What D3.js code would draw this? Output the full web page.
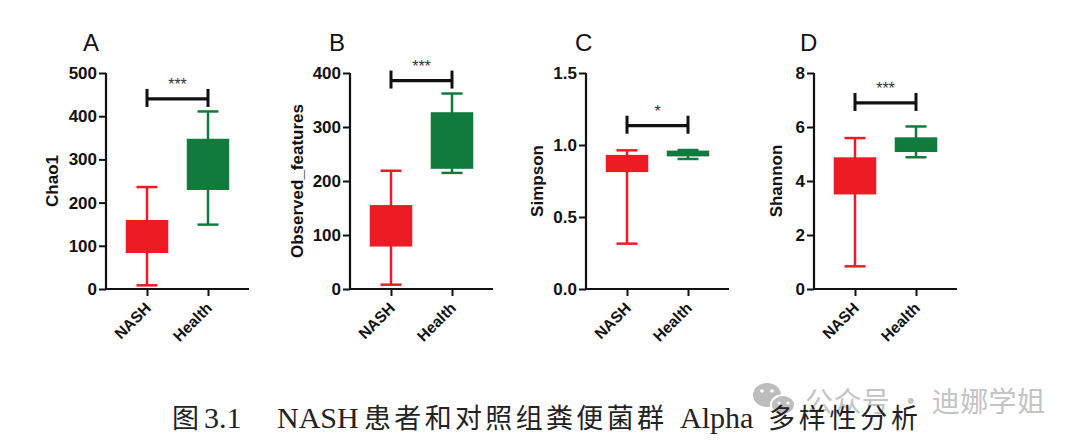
<!DOCTYPE html>
<html><head><meta charset="utf-8">
<script src="https://cdn.jsdelivr.net/npm/d3@7"></script>
<style>body{margin:0;background:#fff}svg{display:block}</style>
</head><body><svg id="c" width="1080" height="445"></svg>
<script>
// ---------- data ----------
const groups = ["NASH", "Health"];
const panelLetters = ["A", "B", "C", "D"];
const yTitles = ["Chao1", "Observed_features", "Simpson", "Shannon"];
// [whisker min, Q1, Q3, whisker max] per group
const chao1Stats = [[8.5, 85, 158, 236], [149, 231, 346, 411]];
const observedStats = [[8, 80, 154, 219], [215, 224, 326, 362]];
const simpsonStats = [[0.315, 0.817, 0.926, 0.963], [0.903, 0.926, 0.956, 0.965]];
const shannonStats = [[0.84, 3.53, 4.85, 5.59], [4.88, 5.10, 5.59, 6.02]];
const chao1Ticks = [0, 100, 200, 300, 400, 500];
const observedTicks = [0, 100, 200, 300, 400];
const simpsonTicks = [0, 0.5, 1.0, 1.5];
const shannonTicks = [0, 2, 4, 6, 8];
const tickFormats = ["d", "d", ".1f", "d"];
const sigLevels = [440, 386, 1.134, 6.89];
const sigLabels = ["***", "***", "*", "***"];
const captionParts = ["图", "3.1", "NASH", "患者和对照组粪便菌群", "Alpha", "多样性分析"];
const watermarkText = "公众号 · 迪娜学姐";

// ---------- layout ----------
const colors = ["#ED1C24", "#117A3D"];
const axisX = [106, 350, 586, 814];
const titleOffset = [54, 53, 49, 38];
const letterX = [83, 329, 575, 800];
const yTop = 73, yBottom = 289;
const boxW = 41, capW = 21;

const statsAll = [chao1Stats, observedStats, simpsonStats, shannonStats];
const ticksAll = [chao1Ticks, observedTicks, simpsonTicks, shannonTicks];

const svg = d3.select("#c");
const FONT = "Liberation Sans, Arial, sans-serif";

statsAll.forEach((stats, i) => {
  const ax = axisX[i];
  const ticks = ticksAll[i];
  const y = d3.scaleLinear().domain([0, ticks[ticks.length - 1]]).range([yBottom, yTop]);
  const x = d3.scalePoint().domain(groups).range([ax + 41, ax + 102]);
  const g = svg.append("g");

  g.append("text").attr("x", letterX[i]).attr("y", 51)
    .attr("font-family", FONT).attr("font-size", 24).attr("fill", "#111")
    .text(panelLetters[i]);

  const yAxis = d3.axisLeft(y).tickValues(ticks).tickFormat(d3.format(tickFormats[i]))
    .tickSize(7).tickPadding(2);
  const ya = g.append("g").attr("transform", `translate(${ax},0)`).call(yAxis);
  ya.select(".domain").attr("stroke", "#111").attr("stroke-width", 2.2)
    .attr("d", `M0,${yTop}V${yBottom + 1}`);
  ya.selectAll(".tick line").attr("stroke", "#111").attr("stroke-width", 2);
  ya.selectAll(".tick text").attr("font-family", FONT).attr("font-size", 17)
    .attr("font-weight", "bold").attr("fill", "#111");

  const xa = g.append("g").attr("transform", `translate(0,${yBottom})`)
    .call(d3.axisBottom(x).tickSize(7).tickFormat(""));
  xa.select(".domain").attr("stroke", "#111").attr("stroke-width", 2.2)
    .attr("d", `M${ax - 1},0H${ax + 143}`);
  xa.selectAll(".tick line").attr("stroke", "#111").attr("stroke-width", 2);

  g.selectAll(".xl").data(groups).enter().append("text")
    .attr("transform", d => `translate(${x(d) + 5},${yBottom + 20}) rotate(-45)`)
    .attr("text-anchor", "end").attr("font-family", FONT).attr("font-size", 15.5)
    .attr("font-weight", "bold").attr("fill", "#111").text(d => d);

  g.append("text")
    .attr("transform", `translate(${ax - titleOffset[i]},${(yTop + yBottom) / 2}) rotate(-90)`)
    .attr("text-anchor", "middle").attr("dy", "0.35em")
    .attr("font-family", FONT).attr("font-size", 17).attr("font-weight", "bold")
    .attr("fill", "#111").text(yTitles[i]);

  stats.forEach((s, k) => {
    const cx = x(groups[k]);
    const c = colors[k];
    g.append("line").attr("x1", cx).attr("x2", cx).attr("y1", y(s[0])).attr("y2", y(s[3]))
      .attr("stroke", c).attr("stroke-width", 2.5);
    [s[0], s[3]].forEach(v => {
      g.append("line").attr("x1", cx - capW / 2).attr("x2", cx + capW / 2)
        .attr("y1", y(v)).attr("y2", y(v)).attr("stroke", c).attr("stroke-width", 2.5);
    });
    g.append("rect").attr("x", cx - boxW / 2).attr("width", boxW)
      .attr("y", y(s[2])).attr("height", Math.max(1, y(s[1]) - y(s[2])))
      .attr("fill", c).attr("stroke", c).attr("stroke-width", 1.5);
  });

  const sy = y(sigLevels[i]);
  const x1 = x(groups[0]), x2 = x(groups[1]);
  g.append("line").attr("x1", x1).attr("x2", x2).attr("y1", sy).attr("y2", sy)
    .attr("stroke", "#111").attr("stroke-width", 3.2);
  [x1, x2].forEach(xx => g.append("line").attr("x1", xx).attr("x2", xx)
    .attr("y1", sy - 10).attr("y2", sy + 8).attr("stroke", "#111").attr("stroke-width", 3));
  g.append("text").attr("x", (x1 + x2) / 2).attr("y", sy - 8.5)
    .attr("text-anchor", "middle").attr("font-family", FONT).attr("font-size", 16)
    .attr("fill", "#333").text(sigLabels[i]);
});

// ---------- watermark ----------
const wm = svg.append("g").attr("fill", "#bdbdbd");
wm.append("ellipse").attr("cx", 767).attr("cy", 395).attr("rx", 14).attr("ry", 12);
wm.append("ellipse").attr("cx", 783).attr("cy", 405).attr("rx", 12).attr("ry", 10)
  .attr("stroke", "#fff").attr("stroke-width", 2);
[[762, 391], [772, 391]].forEach(p => svg.append("circle").attr("cx", p[0]).attr("cy", p[1]).attr("r", 1.8).attr("fill", "#fff"));
[[779, 403], [788, 403]].forEach(p => svg.append("circle").attr("cx", p[0]).attr("cy", p[1]).attr("r", 1.6).attr("fill", "#fff"));
svg.append("text").attr("x", 805).attr("y", 412)
  .attr("font-family", "Noto Sans CJK SC").attr("font-size", 28).attr("fill", "#c4c4c4")
  .attr("textLength", 240).attr("lengthAdjust", "spacing")
  .text(watermarkText);

// ---------- caption ----------
const capX = [172, 204, 277, 364, 680, 768];
const capLen = [null, null, null, 300, null, 150];
const capCJK = [true, false, false, true, false, true];
captionParts.forEach((t, k) => {
  const tx = svg.append("text").attr("x", capX[k]).attr("y", 428)
    .attr("font-family", capCJK[k] ? "Noto Sans CJK SC" : "Liberation Serif, Times New Roman, serif")
    .attr("font-size", capCJK[k] ? 27 : 30).attr("fill", "#222")
    .text(t);
  if (capLen[k]) tx.attr("textLength", capLen[k]).attr("lengthAdjust", "spacing");
});
</script></body></html>
